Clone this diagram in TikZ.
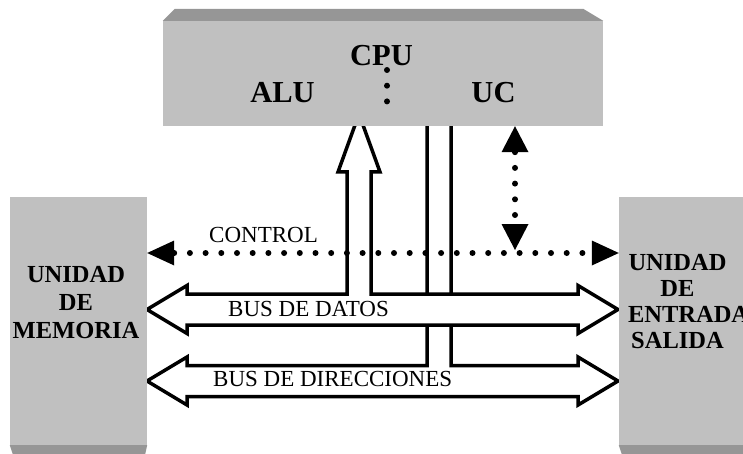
\documentclass[tikz,border=0pt]{standalone}
\usepackage{fontspec}
\setmainfont{Liberation Serif}
\usepackage{tikz}
\usetikzlibrary{arrows.meta,calc}

\definecolor{boxgray}{RGB}{192,192,192}
\definecolor{rimgray}{RGB}{150,150,150}

\tikzset{
  unitbox/.style={fill=boxgray, draw=none, inner sep=0pt},
  busline/.style={line width=3.5pt, fill=white, line join=miter},
  dotline/.style={line width=6pt, line cap=round, dash pattern=on 0pt off 15.7pt},
  cpulbl/.style={font=\fontsize{30.5}{30.5}\selectfont\bfseries, inner sep=0pt},
  unitlbl/.style={font=\fontsize{24.5}{28}\selectfont\bfseries, align=center, inner sep=0pt},
  buslbl/.style={font=\fontsize{23}{23}\selectfont, inner sep=0pt},
  ctrlhead/.tip={Triangle[length=27pt,width=25pt,line width=0pt]},
  vhead/.tip={Triangle[length=26pt,width=27pt,line width=0pt]}
}

\begin{document}
\begin{tikzpicture}[x=1pt,y=-1pt]
  \useasboundingbox (0,0) rectangle (743,454);

  % bus de direcciones, with its two lines up to the CPU
  \draw[busline] (451,126) -- (451,365.5) -- (578,365.5) -- (578,357) -- (618,381) -- (578,405) -- (578,396.5)
    -- (187,396.5) -- (187,405) -- (147,381) -- (187,357) -- (187,365.5) -- (427,365.5) -- (427,126);
  % bus de datos, with the arrow up to the CPU
  \draw[busline] (371,294) -- (578,294) -- (578,285.5) -- (618,309.5) -- (578,333.5) -- (578,325)
    -- (187,325) -- (187,333.5) -- (147,309.5) -- (187,285.5) -- (187,294) -- (347,294)
    -- (347,172) -- (338,172) -- (359,114) -- (380,172) -- (371,172) -- cycle;

  % the three units
  \node[unitbox, minimum width=440pt, minimum height=105pt] (cpu) at (383,73.5) {};
  \fill[rimgray] (cpu.north west) -- ++(12,-12) -- ($(cpu.north east)+(-20,-12)$) -- (cpu.north east) -- cycle;
  \node[unitbox, minimum width=137pt, minimum height=248pt] (mem) at (78.5,321) {};
  \fill[rimgray] (mem.south west) -- ++(3,9) -- ($(mem.south east)+(-2,9)$) -- (mem.south east) -- cycle;
  \node[unitbox, minimum width=137pt, minimum height=248pt] (es) at (687.5,321) {};
  \fill[rimgray] (es.south west) -- ++(3,9) -- ($(es.south east)+(-2,9)$) -- (es.south east) -- cycle;

  \node[cpulbl, anchor=base] (cpulabel) at (381.5,66) {CPU};
  \node[cpulbl, anchor=base] (alu) at (282.5,103) {ALU};
  \node[cpulbl, anchor=base] (uc) at (493.5,103) {UC};
  \draw[dotline] (387,70) -- (387,117);

  \node[unitlbl] (memlabel) at (76,303) {UNIDAD\\DE\\MEMORIA};
  \node[unitlbl, font=\fontsize{24.5}{26}\selectfont\bfseries, text width=99pt] (eslabel) at (677.5,302)
    {UNIDAD\\DE\\\makebox[\linewidth][l]{ENTRADA}\\SALIDA};

  \node[buslbl, anchor=base west] (ctrllabel) at (209,242) {CONTROL};
  \node[buslbl, anchor=base west] (datalabel) at (228,316.7) {BUS DE DATOS};
  \node[buslbl, anchor=base west] (addrlabel) at (213,386.7) {BUS DE DIRECCIONES};

  % control lines
  \coordinate (ctl) at (0,253);
  \coordinate (ucdrop) at (515,0);
  \draw[dotline, ctrlhead-ctrlhead] (mem.east |- ctl) -- (es.west |- ctl);
  \draw[dotline, vhead-vhead, shorten >=3pt] (cpu.south -| ucdrop) -- (ucdrop |- ctl);
\end{tikzpicture}
\end{document}
